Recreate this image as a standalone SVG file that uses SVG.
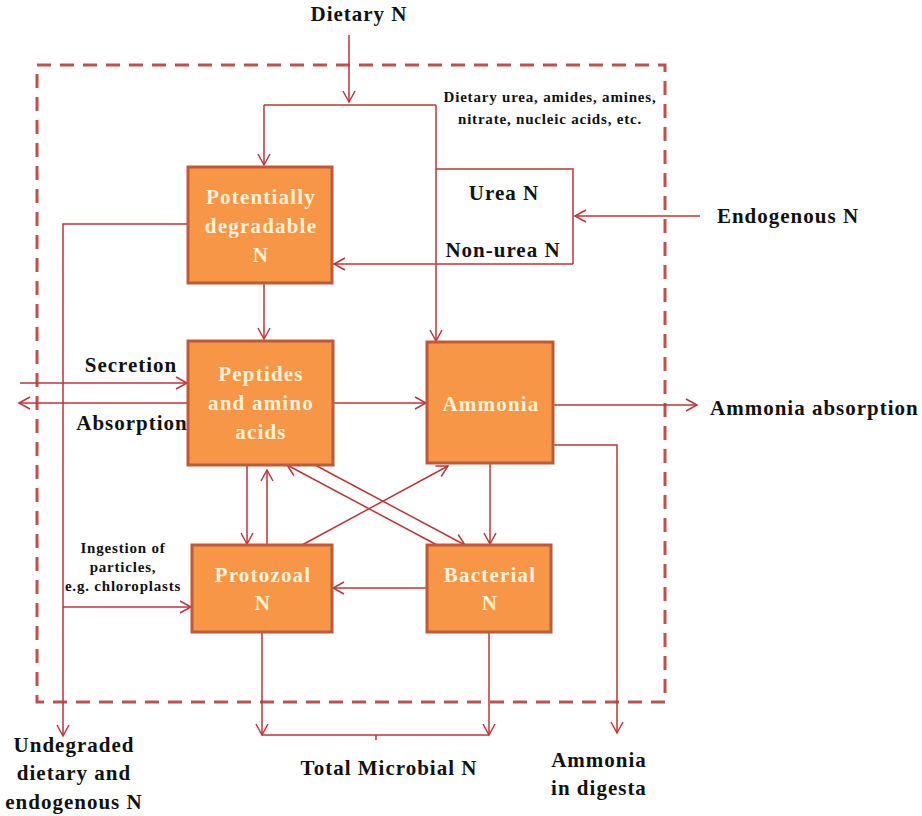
<svg xmlns="http://www.w3.org/2000/svg" width="922" height="816" viewBox="0 0 922 816">
<style>
.box{fill:#F79646;stroke:#BE5A3C;stroke-width:3}
.bt{font-family:"Liberation Serif",serif;font-weight:bold;font-size:21px;letter-spacing:1.2px;fill:#FFF2D9;text-anchor:middle}
.lb{font-family:"Liberation Serif",serif;font-weight:bold;font-size:21px;letter-spacing:1px;fill:#111;text-anchor:middle}
.sm{font-family:"Liberation Serif",serif;font-weight:bold;font-size:15px;letter-spacing:0.8px;fill:#111;text-anchor:middle}
.ln{fill:none;stroke:#B8373A;stroke-width:1.5}
.ar{marker-end:url(#ah)}
.dash{fill:none;stroke:#C0504D;stroke-width:3;stroke-dasharray:14 9}
</style>
<defs>
<marker id="ah" markerWidth="14" markerHeight="14" refX="12" refY="7" orient="auto" markerUnits="userSpaceOnUse">
<path d="M1,1 L12,7 L1,13" fill="none" stroke="#B8373A" stroke-width="1.5"/>
</marker>
</defs>
<rect width="922" height="816" fill="#fff"/>
<rect class="dash" x="37" y="65" width="628" height="637"/>

<g id="connectors">
<path class="ln ar" d="M349,35 V102"/>
<path class="ln" d="M264,105 H436"/>
<path class="ln ar" d="M264,105 V165"/>
<path class="ln ar" d="M436,105 V341"/>
<path class="ln" d="M436,169 H573 V264"/>
<path class="ln ar" d="M573,264 H334"/>
<path class="ln ar" d="M700,216 H575"/>
<path class="ln ar" d="M188,224 H63 V736"/>
<path class="ln ar" d="M264,284 V339"/>
<path class="ln ar" d="M20,383 H187"/>
<path class="ln ar" d="M188,403 H19"/>
<path class="ln ar" d="M334,403 H426"/>
<path class="ln ar" d="M554,405 H697"/>
<path class="ln ar" d="M554,445 H617 V733"/>
<path class="ln ar" d="M247,466 V544"/>
<path class="ln ar" d="M267,544 V470"/>
<path class="ln ar" d="M490,464 V544"/>
<path class="ln ar" d="M437,545 L287,465"/>
<path class="ln ar" d="M315,465 L465,545"/>
<path class="ln ar" d="M302,545 L448,466"/>
<path class="ln ar" d="M427,588 H333"/>
<path class="ln ar" d="M63,607 H191"/>
<path class="ln ar" d="M262,633 V735"/>
<path class="ln ar" d="M489,633 V735"/>
<path class="ln" d="M262,735 H489 M376,735 V740"/>
</g>

<g id="potentially-degradable">
<rect class="box" x="188" y="167" width="144" height="116"/>
<text class="bt" x="261" y="204">Potentially</text>
<text class="bt" x="261" y="233">degradable</text>
<text class="bt" x="261" y="262">N</text>
</g>
<g id="peptides">
<rect class="box" x="188" y="341" width="145" height="124"/>
<text class="bt" x="261" y="381">Peptides</text>
<text class="bt" x="261" y="410">and amino</text>
<text class="bt" x="261" y="439">acids</text>
</g>
<g id="ammonia">
<rect class="box" x="427" y="342" width="126" height="121"/>
<text class="bt" x="491" y="411">Ammonia</text>
</g>
<g id="protozoal">
<rect class="box" x="192" y="545" width="140" height="87"/>
<text class="bt" x="263" y="582">Protozoal</text>
<text class="bt" x="263" y="610">N</text>
</g>
<g id="bacterial">
<rect class="box" x="427" y="545" width="124" height="87"/>
<text class="bt" x="490" y="582">Bacterial</text>
<text class="bt" x="490" y="610">N</text>
</g>

<g id="labels">
<text class="lb" x="359" y="21">Dietary N</text>
<text class="sm" x="550" y="102">Dietary urea, amides, amines,</text>
<text class="sm" x="550" y="124">nitrate, nucleic acids, etc.</text>
<text class="lb" x="504" y="200">Urea N</text>
<text class="lb" x="503" y="257">Non-urea N</text>
<text class="lb" x="788" y="223">Endogenous N</text>
<text class="lb" x="131" y="372">Secretion</text>
<text class="lb" x="132" y="430">Absorption</text>
<text class="lb" x="710" y="415" style="text-anchor:start">Ammonia absorption</text>
<text class="sm" x="123" y="553">Ingestion of</text>
<text class="sm" x="123" y="572">particles,</text>
<text class="sm" x="123" y="591">e.g. chloroplasts</text>
<text class="lb" x="74" y="752">Undegraded</text>
<text class="lb" x="74" y="780">dietary and</text>
<text class="lb" x="74" y="809">endogenous N</text>
<text class="lb" x="389" y="775">Total Microbial N</text>
<text class="lb" x="599" y="767">Ammonia</text>
<text class="lb" x="599" y="795">in digesta</text>
</g>
</svg>
